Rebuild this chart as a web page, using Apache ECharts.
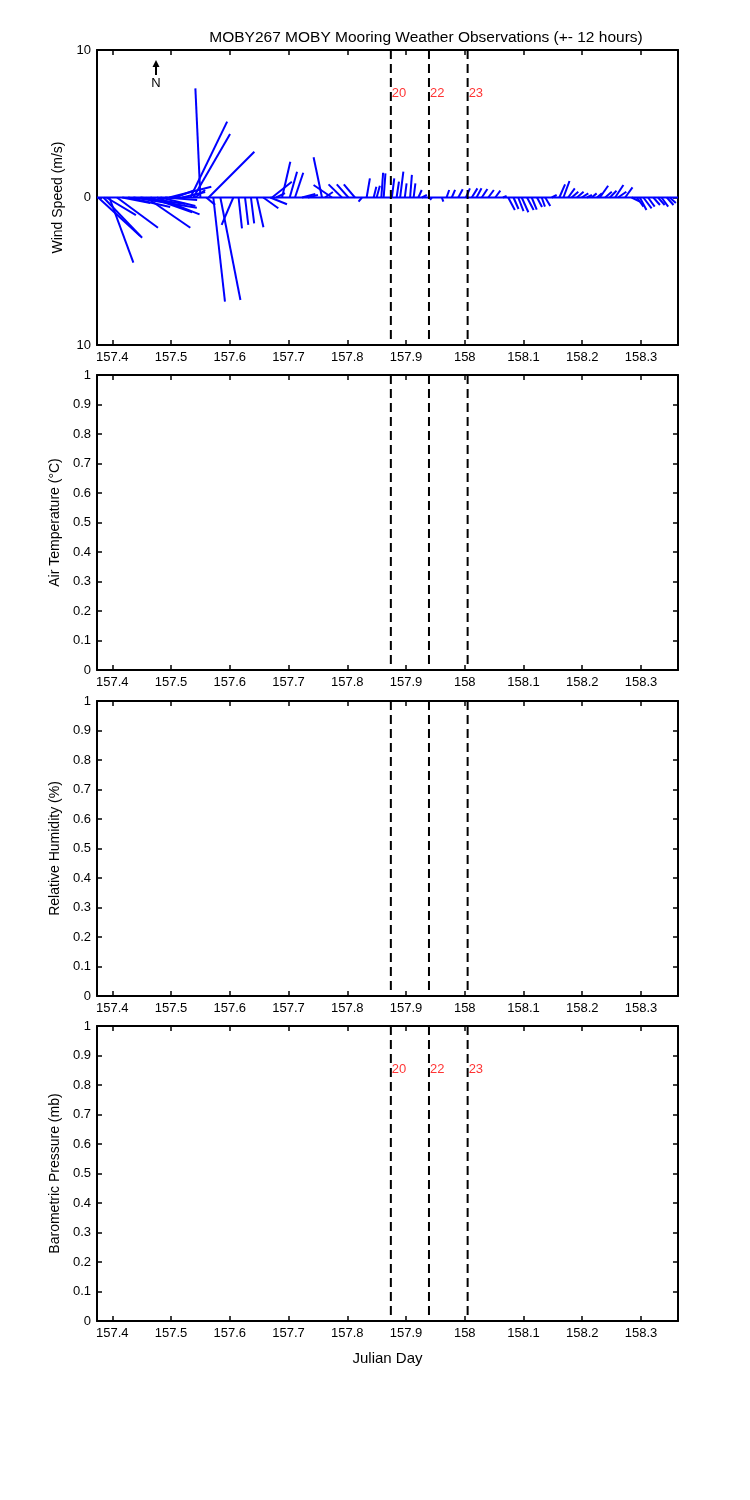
<!DOCTYPE html>
<html>
<head>
<meta charset="utf-8">
<script src="https://cdn.jsdelivr.net/npm/echarts@6/dist/echarts.min.js"></script>
<style>html,body{margin:0;padding:0;background:#fff}#c{width:750px;height:1500px}</style>
</head>
<body>
<div id="c"></div>
<script>
// ---------- data ----------
const titleText = 'MOBY267 MOBY Mooring Weather Observations (+- 12 hours)';
const dayMin = 157.374, dayMax = 158.363;
const dayTicks = [157.4, 157.5, 157.6, 157.7, 157.8, 157.9, 158.0, 158.1, 158.2, 158.3];
const eventDays = [157.8742, 157.9391, 158.0049];
const eventLabels = ['20', '22', '23'];
const panelNames = ['Wind Speed (m/s)', 'Air Temperature (\u00B0C)', 'Relative Humidity (%)', 'Barometric Pressure (mb)'];

// wind sticks: time (julian day), east component u, north component v (m/s)
const stickDay = [157.376,157.385,157.390,157.395,157.408,157.417,157.427,157.436,157.448,157.458,
  157.465,157.476,157.482,157.490,157.497,157.507,157.519,157.533,157.538,157.541,
  157.550,157.560,157.564,157.572,157.584,157.606,157.615,157.626,157.636,157.646,
  157.657,157.669,157.672,157.679,157.689,157.702,157.711,157.723,157.733,157.757,
  157.762,157.774,157.791,157.802,157.813,157.825,157.833,157.845,157.850,157.858,
  157.862,157.876,157.884,157.890,157.898,157.907,157.913,157.921,157.927,157.944,
  157.961,157.969,157.978,157.989,158.002,158.012,158.020,158.029,158.040,158.052,
  158.065,158.074,158.083,158.091,158.097,158.106,158.114,158.123,158.131,158.137,
  158.148,158.161,158.168,158.176,158.182,158.191,158.199,158.208,158.216,158.225,
  158.230,158.239,158.247,158.256,158.261,158.273,158.284,158.293,158.298,158.304,
  158.312,158.321,158.329,158.335,158.344,158.349];
const stickU = [2.85,2.62,2.0,1.63,2.78,1.9,2.85,4.3,3.05,2.98,
  2.83,2.89,2.37,2.17,2.85,1.36,1.56,2.49,2.49,0.68,
  -0.34,0.6,3.10,0.79,1.36,-0.79,0.23,0.22,0.22,0.45,
  1.02,1.13,1.34,0.6,0.56,0.50,0.56,0.9,0.68,-0.57,
  0.54,-1.25,-0.91,-0.79,-0.75,-0.23,0.22,0.18,0.22,0.12,
  0.12,0.16,0.16,0.22,0.12,0.12,0.12,0.23,0.34,-0.12,
  0.1,0.18,0.22,0.30,0.27,0.38,0.34,0.38,0.38,0.34,
  0.25,0.45,0.34,0.36,0.45,0.45,0.34,0.34,0.22,0.34,
  0.34,0.39,0.41,0.45,0.45,0.45,0.45,0.34,0.34,0.34,
  0.56,0.45,0.45,0.56,0.56,0.50,0.56,0.45,0.45,0.56,
  0.45,0.45,0.45,0.45,0.45,0.41];
const stickV = [-2.61,-2.73,-1.2,-4.42,-2.05,-0.37,-0.64,-0.69,-0.44,-2.05,
  -1.0,-1.14,-0.58,-0.17,0.73,0.51,0.37,5.14,4.31,0.51,
  7.40,-0.5,3.10,-7.06,-6.95,-1.86,-2.09,-1.86,-1.75,-2.02,
  -0.73,-0.46,1.07,0.3,2.43,1.75,1.68,0.24,0.17,2.73,
  0.37,0.85,0.89,0.89,0.89,-0.28,1.30,0.73,0.80,1.68,
  1.64,1.30,1.07,1.75,0.96,1.53,0.96,0.51,0.17,-0.17,
  -0.28,0.51,0.51,0.56,0.62,0.62,0.62,0.58,0.51,0.46,
  0.1,-0.85,-0.78,-0.92,-1.0,-0.85,-0.83,-0.64,-0.62,-0.58,
  0.17,0.89,1.12,0.62,0.39,0.39,0.28,0.17,0.28,0.28,
  0.80,0.39,0.46,0.85,0.39,0.69,-0.28,-0.62,-0.85,-0.73,
  -0.62,-0.51,-0.51,-0.62,-0.51,-0.37];

// ---------- layout ----------
const FONT = 'Liberation Sans, Arial, sans-serif';
const gridTops = [50, 375, 701, 1026];
const gridH = 295;

const grids = [], xAxes = [], yAxes = [], series = [];
gridTops.forEach((top, i) => {
  grids.push({left: 97, width: 581, top: top, height: gridH, show: true, backgroundColor: '#fff', borderWidth: 0});
  const baseX = {
    gridIndex: i, type: 'value', min: dayMin, max: dayMax,
    axisLine: {show: true, onZero: false, lineStyle: {color: '#000', width: 2}},
    axisTick: {show: true, inside: true, length: 5, customValues: dayTicks, lineStyle: {color: '#000', width: 1.5}},
    splitLine: {show: false}
  };
  xAxes.push(Object.assign({}, baseX, {
    position: 'bottom',
    axisLabel: {show: true, customValues: dayTicks, color: '#000', fontFamily: FONT, fontSize: 13, margin: 6,
      formatter: v => String(Math.round(v * 10) / 10)},
    name: i === 3 ? 'Julian Day' : '', nameLocation: 'middle', nameGap: 30,
    nameTextStyle: {color: '#000', fontFamily: FONT, fontSize: 15}
  }));
  xAxes.push(Object.assign({}, baseX, {position: 'top', axisLabel: {show: false}}));
  const isWind = i === 0;
  const yMin = isWind ? -10 : 0, yMax = isWind ? 10 : 1;
  const baseY = {
    gridIndex: i, type: 'value',
    min: yMin, max: yMax, interval: isWind ? 10 : 0.1,
    axisLine: {show: true, onZero: false, lineStyle: {color: '#000', width: 2}},
    axisTick: {show: true, inside: true, length: 5, lineStyle: {color: '#000', width: 1.5}},
    splitLine: {show: false}
  };
  yAxes.push(Object.assign({}, baseY, {
    position: 'left',
    axisLabel: {show: true, color: '#000', fontFamily: FONT, fontSize: 13, margin: 6,
      formatter: v => isWind ? String(Math.abs(v)) : String(Math.round(v * 10) / 10)},
    name: panelNames[i], nameLocation: 'middle', nameGap: isWind ? 28 : 30,
    nameTextStyle: {color: '#000', fontFamily: FONT, fontSize: 14}
  }));
  yAxes.push(Object.assign({}, baseY, {position: 'right', axisLabel: {show: false}}));

  // event dashed lines
  eventDays.forEach(d => {
    series.push({
      type: 'line', xAxisIndex: 2 * i, yAxisIndex: 2 * i, symbol: 'none', silent: true, z: 6,
      lineStyle: {color: '#000', width: 2, type: [9, 5]},
      data: [[d, yMax], [d, yMin]]
    });
  });
});

// zero line of the stick plot
series.push({
  type: 'line', xAxisIndex: 0, yAxisIndex: 0, symbol: 'none', silent: true,
  lineStyle: {color: '#0000ff', width: 2},
  data: [[dayMin, 0], [dayMax, 0]], z: 3
});

// wind sticks
series.push({
  type: 'custom', xAxisIndex: 0, yAxisIndex: 0, clip: true, silent: true, z: 4,
  data: stickDay.map((d, k) => [d, stickU[k], stickV[k]]),
  renderItem: function (params, api) {
    const t = api.value(0), u = api.value(1), v = api.value(2);
    const p0 = api.coord([t, 0]);
    const p1 = api.coord([t, v]);
    const unit = api.size([0, 1])[1];
    return {type: 'line', shape: {x1: p0[0], y1: p0[1], x2: p0[0] + u * unit, y2: p1[1]},
      style: {stroke: '#0000ff', lineWidth: 2}};
  }
});

// event hour labels (top and bottom panels)
[[0, 7.08], [3, 0.854]].forEach(([gi, yv]) => {
  series.push({
    type: 'scatter', xAxisIndex: 2 * gi, yAxisIndex: 2 * gi, symbolSize: 0, silent: true, z: 7,
    data: eventDays.map((d, k) => ({value: [d, yv], name: eventLabels[k]})),
    label: {show: true, position: 'right', distance: 1, formatter: p => p.name,
      color: '#ff0000', fontFamily: FONT, fontSize: 13}
  });
});

const chart = echarts.init(document.getElementById('c'), null, {renderer: 'canvas'});
chart.setOption({
  animation: false,
  backgroundColor: '#fff',
  title: {text: titleText, left: 421, top: 25, textAlign: 'center',
    textStyle: {color: '#000', fontFamily: FONT, fontSize: 15.5, fontWeight: 'normal'}},
  grid: grids, xAxis: xAxes, yAxis: yAxes, series: series,
  graphic: [
    {type: 'line', shape: {x1: 156, y1: 75, x2: 156, y2: 66}, style: {stroke: '#000', lineWidth: 2}},
    {type: 'polygon', shape: {points: [[152.5, 67], [159.5, 67], [156, 60]]}, style: {fill: '#000'}},
    {type: 'text', x: 156, y: 83, style: {text: 'N', fill: '#000', font: '13px Liberation Sans', align: 'center', verticalAlign: 'middle'}}
  ]
});
</script>
</body>
</html>
